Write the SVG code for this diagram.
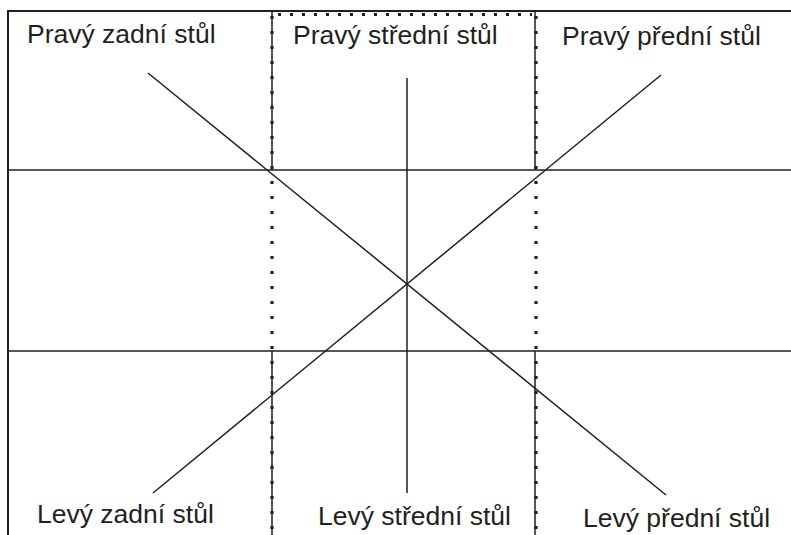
<svg xmlns="http://www.w3.org/2000/svg" width="791" height="535" viewBox="0 0 791 535">
<style>
.ln{stroke:#231f20;stroke-width:1.5;fill:none}
.fr{stroke:#231f20;stroke-width:2;fill:none}
.dot{stroke:#231f20;stroke-width:3.2;fill:none;stroke-dasharray:3 12}
.doth{stroke:#231f20;stroke-width:3.2;fill:none;stroke-dasharray:3 9}
.lbl{font-family:"Liberation Sans",Arial,sans-serif;font-size:26.5px;fill:#231f20}
</style>
<rect width="791" height="535" fill="#ffffff"/>
<g id="frame">
<path class="fr" d="M8,535 V11 H791"/>
<path class="ln" d="M8,170 H791 M8,351 H791"/>
<path class="ln" d="M272,11 V170 M272,351 V535 M535,11 V170 M535,351 V535"/>
<path class="dot" d="M272,16 V535 M536,16 V535"/>
<path class="doth" d="M278,14.5 H532"/>
</g>
<g id="connectors">
<line class="ln" x1="148" y1="73" x2="666" y2="495"/>
<line class="ln" x1="153" y1="493" x2="661" y2="75"/>
<line class="ln" x1="407" y1="78" x2="407" y2="493"/>
</g>
<g id="pravy-zadni"><text class="lbl" x="27" y="43">Pravý zadní stůl</text></g>
<g id="pravy-stredni"><text class="lbl" x="293" y="44">Pravý střední stůl</text></g>
<g id="pravy-predni"><text class="lbl" x="562" y="45">Pravý přední stůl</text></g>
<g id="levy-zadni"><text class="lbl" x="37" y="523">Levý zadní stůl</text></g>
<g id="levy-stredni"><text class="lbl" x="318" y="525">Levý střední stůl</text></g>
<g id="levy-predni"><text class="lbl" x="583" y="527">Levý přední stůl</text></g>
</svg>
